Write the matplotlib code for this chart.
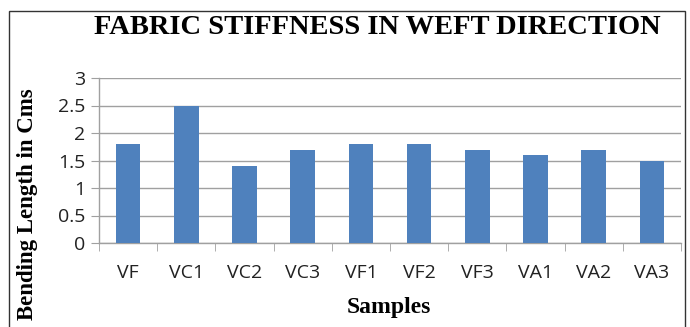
import matplotlib
matplotlib.use("Agg")
import matplotlib.pyplot as plt
from matplotlib.patches import Rectangle
import numpy as np

samples = ["VF", "VC1", "VC2", "VC3", "VF1", "VF2", "VF3", "VA1", "VA2", "VA3"]
bending = [1.8, 2.5, 1.4, 1.7, 1.8, 1.8, 1.7, 1.6, 1.7, 1.5]
yticks = [0, 0.5, 1, 1.5, 2, 2.5, 3]

BAR = "#4F81BD"
GRID = "#A0A0A0"
W, H = 690, 327

fig = plt.figure(figsize=(6.9, 3.27), dpi=100)
ax = fig.add_axes([99 / W, 1 - 243 / H, (681 - 99) / W, (243 - 78) / H])

x = np.arange(len(samples))
ax.bar(x, bending, width=0.42, color=BAR, zorder=3)
ax.set_xlim(-0.5, len(samples) - 0.5)
ax.set_ylim(0, 3)
ax.set_yticks(yticks)
ax.set_yticklabels([f"{v:g}" for v in yticks], fontsize=14, family="Open Sans", color="#222")
ax.yaxis.grid(True, color=GRID, linewidth=1.0, zorder=0)

# category labels centred, tick marks between categories
ax.set_xticks(x)
ax.set_xticklabels(samples, fontsize=14, family="Open Sans", color="#222")
ax.tick_params(axis="x", length=0, pad=15)
ax.set_xticks(np.arange(-0.5, len(samples)), minor=True)
ax.tick_params(axis="x", which="minor", length=6, color=GRID, direction="out")
ax.tick_params(axis="y", length=6, color=GRID, direction="out", pad=4)

for s in ["top", "right"]:
    ax.spines[s].set_visible(False)
for s in ["left", "bottom"]:
    ax.spines[s].set_color(GRID)
    ax.spines[s].set_linewidth(1.0)

fig.text(377 / W, 1 - 28 / H, "FABRIC STIFFNESS IN WEFT DIRECTION",
         ha="center", va="center", fontsize=20.5, fontweight="bold",
         family="Liberation Serif")
fig.text(389 / W, 1 - 308 / H, "Samples", ha="center", va="center",
         fontsize=17, fontweight="bold", family="Liberation Serif")
fig.text(27 / W, 1 - 204 / H, "Bending Length in Cms", ha="center", va="center",
         rotation=90, fontsize=16.5, fontweight="bold", family="Liberation Serif")

# outer frame of the chart area (open at the bottom, cropped)
fig.add_artist(Rectangle((9 / W, -0.05), (685 - 9) / W, 1.05 - 11 / H,
                         transform=fig.transFigure, fill=False,
                         edgecolor="#333", linewidth=1.0))

fig.savefig("out.png", dpi=100)
